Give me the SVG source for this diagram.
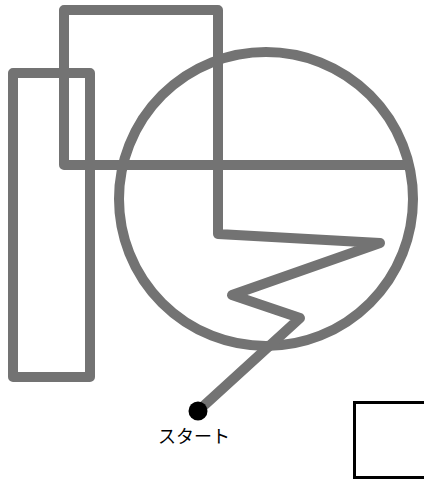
<svg xmlns="http://www.w3.org/2000/svg" width="424" height="480" viewBox="0 0 424 480">
<style>
.g{fill:none;stroke:#737373;stroke-width:10;stroke-linejoin:round;stroke-linecap:round}
.lbl{font-family:"Noto Sans CJK JP","Noto Sans CJK SC",sans-serif;font-size:18px;fill:#000;text-anchor:middle}
</style>
<rect width="424" height="480" fill="#fff"/>
<g id="left-rect"><rect class="g" x="13" y="73" width="77" height="304"/></g>
<g id="circle"><circle class="g" cx="266" cy="199" r="147"/></g>
<g id="connectors">
<path class="g" d="M198,411 L300,318 L232,295 L380,243 L218,234 L218,10 L64,10 L64,165 L408,165"/>
</g>
<g id="start"><circle cx="198" cy="411" r="9.5" fill="#000"/><text class="lbl" x="194" y="443">スタート</text></g>
<g id="box"><rect x="354.5" y="402.5" width="75" height="75" fill="none" stroke="#000" stroke-width="3"/></g>
</svg>
